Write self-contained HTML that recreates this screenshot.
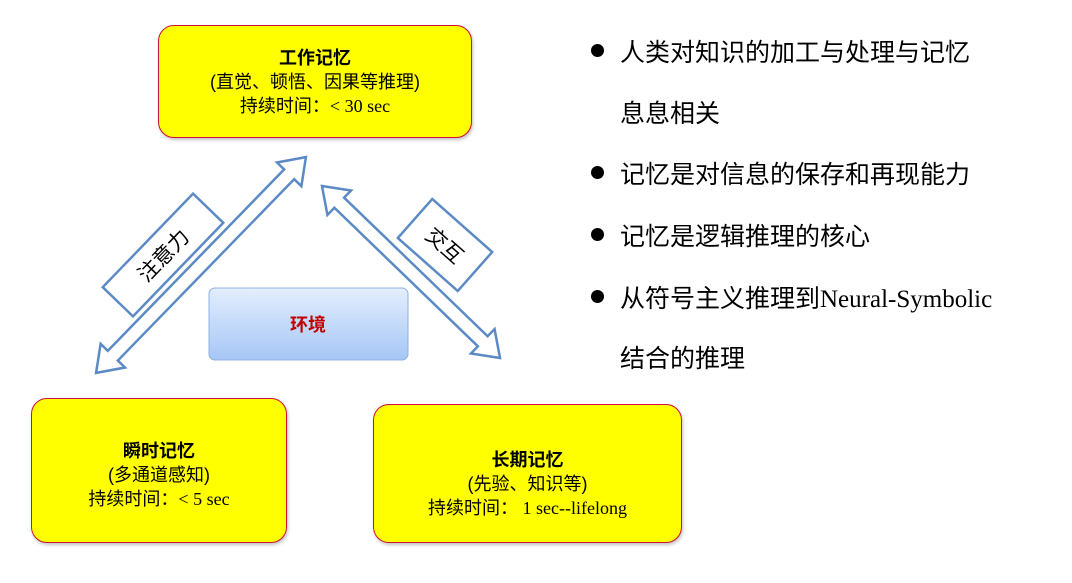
<!DOCTYPE html>
<html><head><meta charset="utf-8"><style>
body{margin:0;width:1072px;height:583px;background:#fff;position:relative;overflow:hidden;font-family:"Liberation Serif","Noto Sans CJK SC",sans-serif}
.y{position:absolute;background:#ffff00;border:1.5px solid #d0103a;border-radius:16px;box-shadow:1px 2px 3px rgba(0,0,0,0.25);text-align:center;font-size:18px;line-height:24px;color:#000;box-sizing:border-box;display:flex;flex-direction:column;justify-content:center}
.y b{font-family:"Liberation Sans","Noto Sans CJK SC",sans-serif;font-size:18px}
.c{font-family:"Liberation Sans","Noto Sans CJK SC",sans-serif}
.bl{position:absolute;left:597px;font-size:25px;font-family:"Liberation Serif","Noto Sans CJK SC",sans-serif}
.bl span{position:absolute;left:23px;white-space:nowrap;top:-17px}
.dot{position:absolute;width:13px;height:13px;border-radius:50%;background:#000;left:-6px;top:-6px}
</style></head><body>
<div class="y" style="left:158px;top:25px;width:314px;height:113px;padding-top:0px">
<b>工作记忆</b><div class="c">(直觉、顿悟、因果等推理)</div><div><span class="c">持续时间：</span>&lt; 30 sec</div></div>
<div class="y" style="left:31px;top:398px;width:256px;height:145px;padding-top:8px">
<b>瞬时记忆</b><div class="c">(多通道感知)</div><div><span class="c">持续时间：</span>&lt; 5 sec</div></div>
<div class="y" style="left:373px;top:404px;width:309px;height:139px;padding-top:20px">
<b>长期记忆</b><div class="c">(先验、知识等)</div><div><span class="c">持续时间：</span> 1 sec--lifelong</div></div>
<svg width="1072" height="583" style="position:absolute;left:0;top:0">
<defs><linearGradient id="g" x1="0" y1="0" x2="0" y2="1"><stop offset="0" stop-color="#e3eefd"/><stop offset="1" stop-color="#a6c6f6"/></linearGradient></defs>
<rect x="209" y="288" width="199" height="72" rx="6" fill="url(#g)" stroke="#8fb0e0" stroke-width="1"/>
<text x="308" y="331" text-anchor="middle" font-family="Liberation Sans,Noto Sans CJK SC,sans-serif" font-weight="bold" font-size="18" fill="#c00000">环境</text>
<g transform="translate(201,265) rotate(-45.8)">
<polygon points="-150.5,0 -126.5,-17 -126.5,-7 126.5,-7 126.5,-17 150.5,0 126.5,17 126.5,7 -126.5,7 -126.5,17" fill="#fff" stroke="#5b8ac4" stroke-width="2.5" stroke-linejoin="miter"/>
</g>
<g transform="translate(411,272) rotate(44)">
<polygon points="-123.75,0 -99.75,-17 -99.75,-7 99.75,-7 99.75,-17 123.75,0 99.75,17 99.75,7 -99.75,7 -99.75,17" fill="#fff" stroke="#5b8ac4" stroke-width="2.5"/>
</g>
<g transform="translate(163,255) rotate(-46)">
<rect x="-65" y="-21" width="130" height="42" fill="#fff" stroke="#5b8ac4" stroke-width="2.5"/>
<text x="0" y="8" text-anchor="middle" font-family="Noto Sans CJK SC,sans-serif" font-size="21">注意力</text>
</g>
<g transform="translate(445,245) rotate(41.5)">
<rect x="-40" y="-26" width="80" height="52" fill="#fff" stroke="#5b8ac4" stroke-width="2.5"/>
<text x="0" y="8" text-anchor="middle" font-family="Noto Sans CJK SC,sans-serif" font-size="21">交互</text>
</g>
</svg>
<div class="bl" style="top:50px"><div class="dot"></div><span>人类对知识的加工与处理与记忆</span></div>
<div class="bl" style="top:111px"><span>息息相关</span></div>
<div class="bl" style="top:172px"><div class="dot"></div><span>记忆是对信息的保存和再现能力</span></div>
<div class="bl" style="top:234px"><div class="dot"></div><span>记忆是逻辑推理的核心</span></div>
<div class="bl" style="top:296px"><div class="dot"></div><span>从符号主义推理到Neural-Symbolic</span></div>
<div class="bl" style="top:356px"><span>结合的推理</span></div>
</body></html>
